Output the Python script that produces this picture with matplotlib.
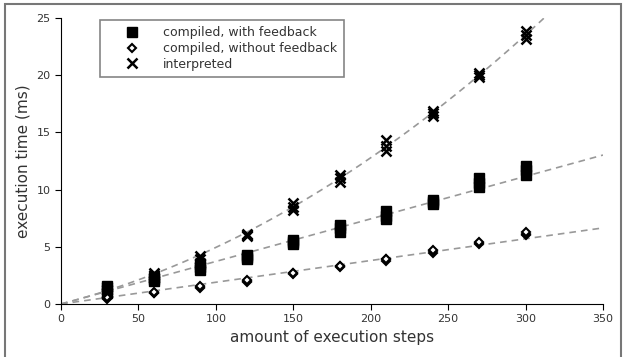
## execution time vs amount of execution steps, with fitted trend lines

import matplotlib
matplotlib.use('Agg')
import matplotlib.pyplot as plt
import numpy as np
from matplotlib.patches import Rectangle

steps = [30, 60, 90, 120, 150, 180, 210, 240, 270, 300]

# three runs per step count
compiledFeedback = [
    [1.0, 1.3, 1.6], [2.0, 2.2, 2.4], [3.0, 3.2, 3.5], [3.9, 4.1, 4.3],
    [5.2, 5.4, 5.6], [6.3, 6.6, 6.9], [7.4, 7.7, 8.1], [8.7, 8.9, 9.1],
    [10.2, 10.6, 11.0], [11.3, 11.7, 12.1]]
compiledNoFeedback = [
    [0.45, 0.55, 0.6], [0.95, 1.0, 1.05], [1.4, 1.5, 1.55], [1.95, 2.0, 2.1],
    [2.6, 2.7, 2.75], [3.2, 3.3, 3.35], [3.8, 3.9, 3.95], [4.5, 4.6, 4.7],
    [5.2, 5.3, 5.45], [6.0, 6.1, 6.25]]
interpreted = [
    [1.0, 1.2, 1.5], [2.3, 2.5, 2.7], [3.6, 3.9, 4.2], [5.9, 6.0, 6.1],
    [8.2, 8.5, 8.8], [10.7, 11.0, 11.3], [13.4, 13.8, 14.3], [16.4, 16.7, 16.9],
    [19.8, 20.0, 20.2], [23.2, 23.5, 23.9]]

# trend lines y = a*x + b*x^2
fitFeedback = [0.0372, 0.0]
fitNoFeedback = [0.019, 0.0]
fitInterpreted = [0.03495, 1.448e-4]

labels = ['compiled, with feedback', 'compiled, without feedback', 'interpreted']

fig = plt.figure(figsize=(6.27, 3.57), dpi=100)
ax = fig.add_axes([0.0973, 0.1485, 0.8644, 0.8011])

# grey frame around the whole picture
fig.patches.append(Rectangle((0.008, -0.01), 0.983, 0.999, transform=fig.transFigure,
                             fill=False, edgecolor='#777777', linewidth=1.5))

styles = [
    dict(marker='s', markersize=6.5, color='black', linestyle='none'),
    dict(marker='D', markersize=4.5, markerfacecolor='white', markeredgecolor='black',
         markeredgewidth=1.5, linestyle='none'),
    dict(marker='x', markersize=7, color='black', markeredgewidth=1.8, linestyle='none'),
]

xx = np.linspace(0, 350, 200)
for vals, fit, st, lab in zip([compiledFeedback, compiledNoFeedback, interpreted],
                              [fitFeedback, fitNoFeedback, fitInterpreted], styles, labels):
    ax.plot(xx, fit[0] * xx + fit[1] * xx ** 2, '--', color='#999999',
            linewidth=1.2, dashes=(4, 3), zorder=1)
    xs = np.repeat(steps, 3)
    ys = np.array(vals).ravel()
    ax.plot(xs, ys, label=lab, zorder=3, **st)

ax.set_xlim(0, 350)
ax.set_ylim(0, 25)
ax.set_xticks(range(0, 351, 50))
ax.set_yticks(range(0, 26, 5))
ax.spines['top'].set_visible(False)
ax.spines['right'].set_visible(False)
ax.tick_params(direction='out', length=4, labelsize=8, labelcolor='#333333')
ax.set_xlabel('amount of execution steps', fontsize=11, color='#333333')
ax.set_ylabel('execution time (ms)', fontsize=11, color='#333333')

leg = ax.legend(loc='upper left', bbox_to_anchor=(0.072, 0.993), borderaxespad=0,
                fontsize=9, fancybox=False, frameon=True, handletextpad=0.45,
                labelspacing=0.22, borderpad=0.5, handlelength=4.1)
leg.get_frame().set_edgecolor('#666666')
leg.get_frame().set_linewidth(1.2)
for t in leg.get_texts():
    t.set_color('#333333')

fig.savefig('out.png', dpi=100)
